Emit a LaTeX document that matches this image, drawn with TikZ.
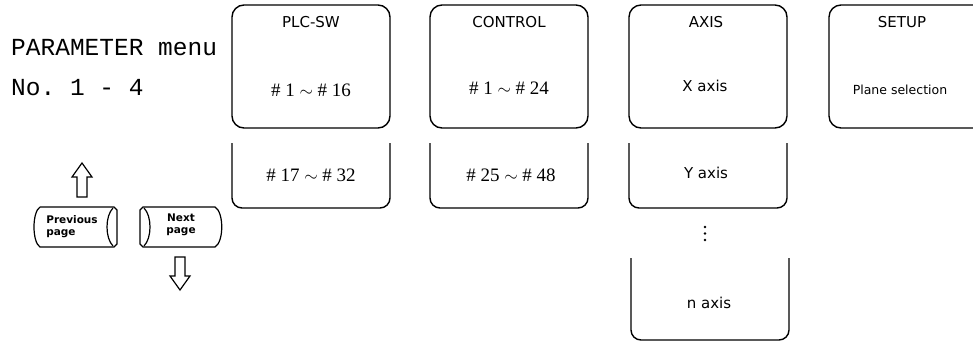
\documentclass[tikz,border=0pt]{standalone}
\usepackage{fontspec}
\setsansfont{DejaVu Sans}
\setmonofont{Liberation Mono}
\newfontfamily\numfont{Liberation Serif}
\usetikzlibrary{positioning}

\tikzset{
  menubox/.style={draw, line width=1.4pt, rounded corners=12pt, minimum width=158pt, minimum height=123pt, inner sep=0pt},
  tabline/.style={line width=1.4pt, rounded corners=10pt},
  boxtitle/.style={font=\sffamily\fontsize{15}{15}\selectfont, inner sep=1pt},
  boxitem/.style={font=\sffamily\fontsize{15}{15}\selectfont, inner sep=1pt},
  numitem/.style={font=\numfont\fontsize{19}{19}\selectfont, inner sep=1pt},
  keytext/.style={font=\sffamily\bfseries\fontsize{10.5}{12}\selectfont, inner sep=0pt},
  menutext/.style={font=\ttfamily\fontsize{24.5}{24.5}\selectfont, anchor=west, inner sep=0pt},
  hollow/.style={line width=1.2pt, line join=miter}
}

\begin{document}
\begin{tikzpicture}[x=1pt, y=-1pt]
    \useasboundingbox (0,0) rectangle (973,341);

    % Menu caption
    \node[menutext] (menu) at (11,48) {PARAMETER menu};
    \node[menutext] (menuno) at (11,88) {No. 1 - 4};

    % Page keys
    \draw[line width=1.2pt] (40,207) -- (114,207) -- (117,210) -- (117,244) -- (114,247) -- (40,247)
        .. controls (32,242) and (32,212) .. (40,207);
    \draw[line width=1.2pt] (113,208) .. controls (105,216) and (105,238) .. (113,246);
    \node[keytext, align=left] (prev) at (72,227) {Previous\\page};
    \draw[line width=1.2pt] (143,207) -- (215,207) .. controls (224,212) and (224,242) .. (215,247)
        -- (143,247) -- (140,244) -- (140,210) -- cycle;
    \draw[line width=1.2pt] (144,208) .. controls (152,216) and (152,238) .. (144,246);
    \node[keytext, align=center] (next) at (181,225) {Next\\page};

    % Hollow arrows
    \draw[hollow] (82,163) -- (92,177) -- (87,177) -- (87,197) -- (77,197) -- (77,177) -- (72,177) -- cycle;
    \draw[hollow] (180,290) -- (190,276) -- (185,276) -- (185,257) -- (175,257) -- (175,276) -- (170,276) -- cycle;

    % Top boxes
    \node[menubox] (plcsw) at (311,66.5) {};
    \node[menubox] (control) at (509,66.5) {};
    \node[menubox] (axis) at (708,66.5) {};
    \node[menubox] (setup) at (908,66.5) {};

    \node[boxtitle, below=11pt of plcsw.north] (plctitle) {PLC-SW};
    \node[boxtitle, below=11pt of control.north] (ctrltitle) {CONTROL};
    \node[boxtitle, below=11pt of axis.north, xshift=-2pt] (axistitle) {AXIS};
    \node[boxtitle, below=11pt of setup.north, xshift=-6pt] (setuptitle) {SETUP};

    \node[numitem] (plcone) at (311,90) {\# 1 $\sim$ \# 16};
    \node[numitem] (ctrlone) at (509,88) {\# 1 $\sim$ \# 24};
    \node[boxitem] (xaxis) at (705,86) {X axis};
    \node[boxitem, font=\sffamily\fontsize{12.5}{12.5}\selectfont] (plane) at (900,90) {Plane selection};

    % Lower tabs
    \draw[tabline] (232,143) -- (232,208) -- (390,208) -- (390,143);
    \draw[tabline] (430,143) -- (430,208) -- (588,208) -- (588,143);
    \draw[tabline] (629,143) -- (629,208) -- (787,208) -- (787,143);
    \draw[tabline] (631,258) -- (631,340) -- (789,340) -- (789,258);

    \node[numitem] (plctwo) at (311,175) {\# 17 $\sim$ \# 32};
    \node[numitem] (ctrltwo) at (511,175) {\# 25 $\sim$ \# 48};
    \node[boxitem] (yaxis) at (706,173) {Y axis};
    % Continuation dots
    \fill (705,227) circle (1.4pt) (705,233.5) circle (1.4pt) (705,240) circle (1.4pt);
    \node[boxitem] (naxis) at (709,303) {n axis};
\end{tikzpicture}
\end{document}
